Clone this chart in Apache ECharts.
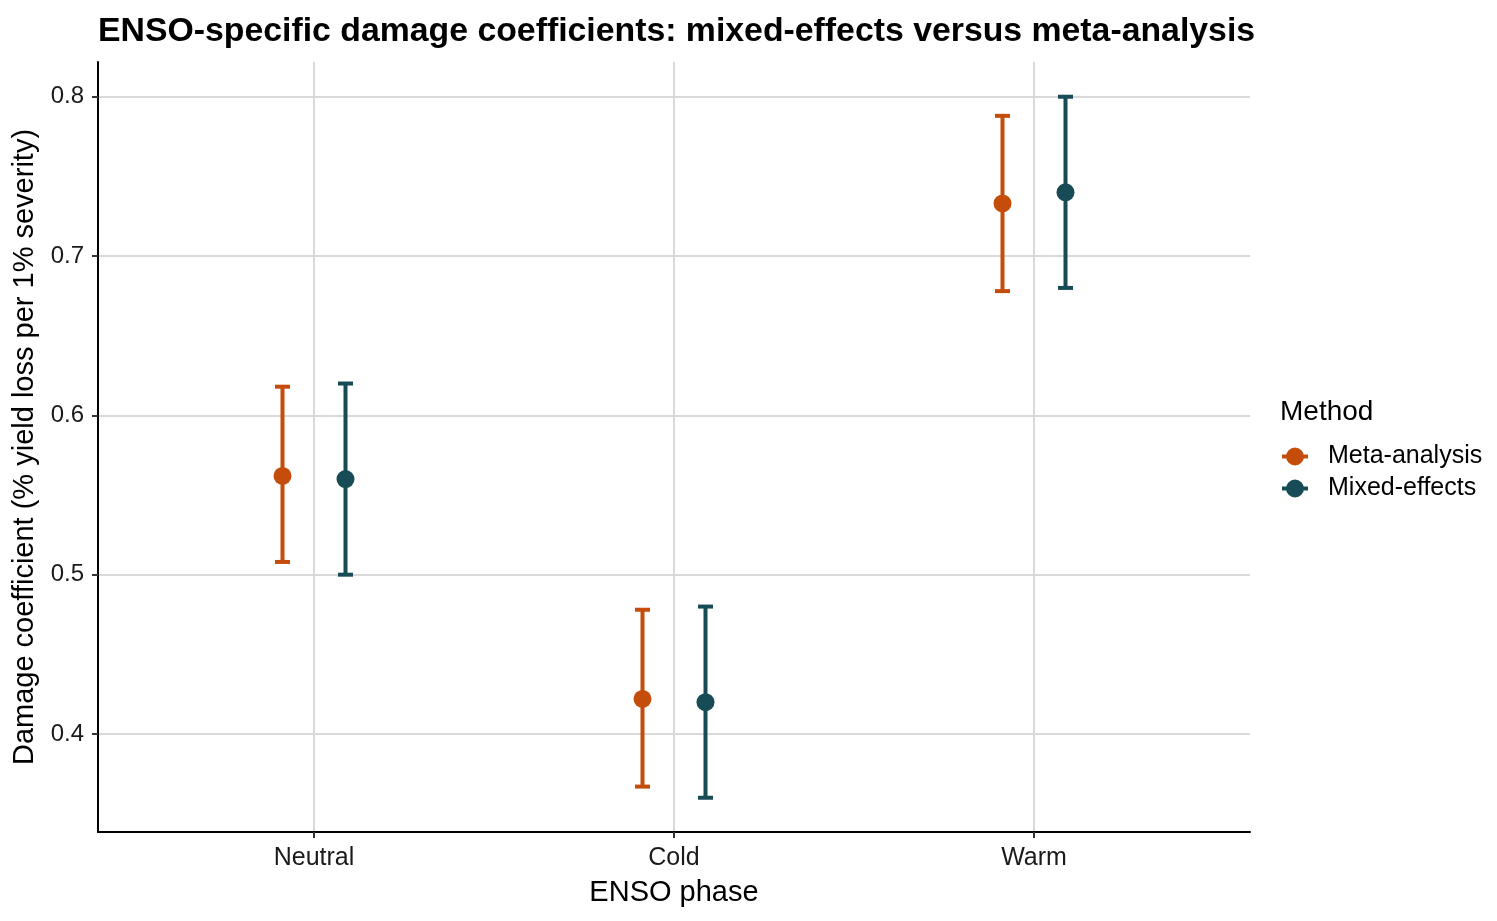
<!DOCTYPE html>
<html>
<head>
<meta charset="utf-8">
<script src="https://cdn.jsdelivr.net/npm/echarts@6/dist/echarts.min.js"></script>
<style>html,body{margin:0;padding:0;background:#fff;}#chart{width:1497px;height:921px;}</style>
</head>
<body>
<div id="chart"></div>
<script>
// ---- data ----
const categories = ['Neutral', 'Cold', 'Warm'];
const methods = ['Meta-analysis', 'Mixed-effects'];
const metaEst = [0.562, 0.422, 0.733];
const metaLo  = [0.508, 0.367, 0.678];
const metaHi  = [0.618, 0.478, 0.788];
const mixedEst = [0.560, 0.420, 0.740];
const mixedLo  = [0.500, 0.360, 0.680];
const mixedHi  = [0.620, 0.480, 0.800];
const yTicks = [0.4, 0.5, 0.6, 0.7, 0.8];

// ---- styling ----
const FONT = "'Liberation Sans', Arial, sans-serif";
const colors = { 'Meta-analysis': '#C54D0C', 'Mixed-effects': '#174B55' };
const dodge = 0.0875;

const chart = echarts.init(document.getElementById('chart'), null, { renderer: 'canvas' });

function errSeries(name, lo, hi, off) {
  const color = colors[name];
  return {
    name: name,
    type: 'custom',
    itemStyle: { color: color },
    data: categories.map((c, i) => [i + off, lo[i], hi[i]]),
    renderItem: function (params, api) {
      const x = api.value(0);
      const pLo = api.coord([x, api.value(1)]);
      const pHi = api.coord([x, api.value(2)]);
      const hw = 7.5;
      const st = { stroke: color, lineWidth: 4, fill: null, lineCap: 'butt' };
      return {
        type: 'group',
        children: [
          { type: 'line', shape: { x1: pLo[0], y1: pLo[1], x2: pHi[0], y2: pHi[1] }, style: st },
          { type: 'line', shape: { x1: pHi[0] - hw, y1: pHi[1], x2: pHi[0] + hw, y2: pHi[1] }, style: st },
          { type: 'line', shape: { x1: pLo[0] - hw, y1: pLo[1], x2: pLo[0] + hw, y2: pLo[1] }, style: st }
        ]
      };
    },
    z: 2
  };
}
function ptSeries(name, est, off) {
  return {
    name: name,
    type: 'scatter',
    symbol: 'circle',
    symbolSize: 18,
    itemStyle: { color: colors[name], opacity: 1 },
    data: categories.map((c, i) => [i + off, est[i]]),
    z: 3
  };
}

const legendIcon = 'path://M0,7 L26,7 L26,11 L0,11 Z M13,0 A9,9 0 1,1 13,18 A9,9 0 1,1 13,0 Z';

const option = {
  backgroundColor: '#ffffff',
  animation: false,
  textStyle: { fontFamily: FONT },
  title: [
    {
      text: 'ENSO-specific damage coefficients: mixed-effects versus meta-analysis',
      left: 93, top: 10,
      textStyle: { fontFamily: FONT, fontWeight: 'bold', fontSize: 33.8, color: '#000' }
    },
    {
      text: 'Method',
      left: 1275, top: 393,
      textStyle: { fontFamily: FONT, fontWeight: 'normal', fontSize: 28, color: '#000' }
    }
  ],
  legend: {
    orient: 'vertical',
    left: 1277, top: 439,
    itemWidth: 26, itemHeight: 18, itemGap: 7,
    textStyle: { fontFamily: FONT, fontSize: 25, color: '#000', padding: [0, 0, 0, 15] },
    data: methods.map(m => ({ name: m, icon: legendIcon, itemStyle: { color: colors[m] } })),
    selectedMode: false
  },
  grid: { left: 98, right: 247, top: 62, bottom: 89, containLabel: false, outerBoundsMode: 'none' },
  xAxis: {
    type: 'value',
    min: -0.6, max: 2.6,
    name: 'ENSO phase',
    nameLocation: 'middle',
    nameGap: 46,
    nameTextStyle: { fontFamily: FONT, fontSize: 29, color: '#000' },
    axisLine: { show: true, onZero: false, lineStyle: { color: '#000', width: 2 } },
    axisTick: { show: true, length: 6, lineStyle: { color: '#333', width: 2 }, customValues: categories.map((c, i) => i) },
    axisLabel: {
      customValues: categories.map((c, i) => i),
      formatter: v => categories[Math.round(v)],
      fontFamily: FONT, fontSize: 25, color: '#1a1a1a', margin: 14
    },
    splitLine: { show: true, lineStyle: { color: '#d9d9d9', width: 2 } }
  },
  yAxis: {
    type: 'value',
    min: 0.3385, max: 0.8218,
    name: 'Damage coefficient (% yield loss per 1% severity)',
    nameLocation: 'middle',
    nameGap: 56,
    nameTextStyle: { fontFamily: FONT, fontSize: 29, color: '#000' },
    axisLine: { show: true, onZero: false, lineStyle: { color: '#000', width: 2 } },
    axisTick: { show: true, length: 6, lineStyle: { color: '#333', width: 2 }, customValues: yTicks },
    axisLabel: {
      customValues: yTicks,
      formatter: v => v.toFixed(1),
      fontFamily: FONT, fontSize: 24, color: '#1a1a1a', margin: 14
    },
    splitLine: { show: true, lineStyle: { color: '#d9d9d9', width: 2 } }
  },
  series: [
    errSeries('Meta-analysis', metaLo, metaHi, -dodge),
    errSeries('Mixed-effects', mixedLo, mixedHi, dodge),
    ptSeries('Meta-analysis', metaEst, -dodge),
    ptSeries('Mixed-effects', mixedEst, dodge)
  ]
};
chart.setOption(option);
</script>
</body>
</html>
